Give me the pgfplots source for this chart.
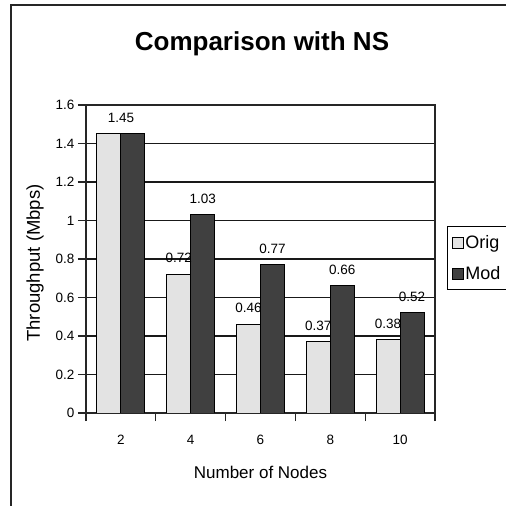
\documentclass[border=0pt]{standalone}
\usepackage{fontspec}
\setmainfont{Liberation Sans}
\usepackage{pgfplots}
\pgfplotsset{compat=1.18}
\usepackage{pgfplotstable}
\definecolor{origc}{HTML}{E3E3E3}
\definecolor{modc}{HTML}{404040}

\pgfplotstableread{
x y lab dx
2 1.45 {} 0
4 0.72 0.72 0
6 0.46 0.46 0
8 0.37 0.37 0
10 0.38 0.38 0
}\origtab

\pgfplotstableread{
x y lab dx
2 1.45 1.45 -12
4 1.03 1.03 0
6 0.77 0.77 0
8 0.66 0.66 0
10 0.52 0.52 0
}\modtab

\begin{document}
\begin{tikzpicture}[x=1pt,y=1pt]
\useasboundingbox (0,0) rectangle (506,506);
\fill[white] (0,0) rectangle (506,506);
\draw[line width=1.4pt, black!85] (11,-5) -- (11,501) -- (511,501);
\node[font=\fontsize{26}{30}\selectfont\bfseries] at (262,462) {Comparison with NS};
\begin{axis}[
  at={(86pt,93pt)}, anchor=south west,
  scale only axis, width=349pt, height=308pt,
  xmin=1, xmax=11, ymin=0, ymax=1.6,
  xtick={1,3,5,7,9,11}, xticklabels={},
  extra x ticks={2,4,6,8,10},
  extra x tick labels={2,4,6,8,10},
  extra x tick style={major tick length=0pt, grid=none},
  xticklabel style={yshift=-19pt},
  ytick={0,0.2,0.4,0.6,0.8,1,1.2,1.4,1.6},
  yticklabels={0,0.2,0.4,0.6,0.8,1,1.2,1.4,1.6},
  tick align=outside, xtick pos=bottom, ytick pos=left,
  major tick length=8pt,
  ymajorgrids, grid style={black!90, line width=1.1pt},
  axis line style={black!85, line width=1.2pt},
  tick style={black!85, line width=1.2pt},
  tick label style={font=\fontsize{13.5}{15}\selectfont},
  /pgf/number format/assume math mode=true,
  xlabel={Number of Nodes},
  xlabel style={font=\fontsize{17}{20}\selectfont, at={(axis description cs:0.5,-0.1916)}, anchor=center},
  ylabel={Throughput (Mbps)},
  ylabel style={font=\fontsize{18.5}{20}\selectfont, at={(axis description cs:-0.146,0.487)}, anchor=center},
  ybar=0pt, bar width=24pt,
  point meta=explicit symbolic,
  nodes near coords,
  visualization depends on={\thisrow{dx}\as\dx},
  every node near coord/.append style={font=\fontsize{13.5}{15}\selectfont, anchor=south, inner sep=0pt, yshift=11pt, xshift=\dx pt, black},
  legend style={at={(1.0344,0.607)}, anchor=north west, font=\fontsize{18}{20}\selectfont, draw=black, line width=1.2pt, row sep=12pt, inner xsep=4pt, inner ysep=7pt},
  legend cell align=left,
  legend image code/.code={\draw[#1, line width=0.8pt] (1pt,-5.5pt) rectangle (12pt,5.5pt);},
]
\addplot[fill=origc, draw=black, line width=0.9pt] table[x=x, y=y, meta=lab] {\origtab};
\addplot[fill=modc, draw=black, line width=0.9pt] table[x=x, y=y, meta=lab] {\modtab};
\legend{Orig, Mod}
\end{axis}
\end{tikzpicture}
\end{document}
